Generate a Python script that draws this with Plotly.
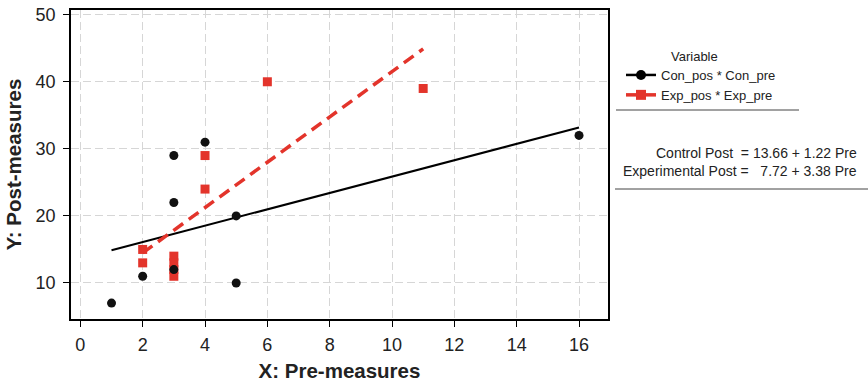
import plotly.graph_objects as go

con_pre = [1, 2, 3, 3, 3, 4, 5, 5, 16]
con_pos = [7, 11, 29, 22, 12, 31, 20, 10, 32]
exp_pre = [2, 2, 3, 3, 3, 3, 4, 4, 6, 11]
exp_pos = [15, 13, 14, 13, 12, 11, 29, 24, 40, 39]

# regression coefficients as printed on the chart
con_coef = [13.66, 1.22]
exp_coef = [7.72, 3.38]
con_line_x = [1, 16]
exp_line_x = [2, 11]
con_line_y = [con_coef[0] + con_coef[1] * x for x in con_line_x]
exp_line_y = [exp_coef[0] + exp_coef[1] * x for x in exp_line_x]

x_ticks = [0, 2, 4, 6, 8, 10, 12, 14, 16]
y_ticks = [10, 20, 30, 40, 50]

FONT = "Liberation Sans, Arial, sans-serif"
RED = "#e3342b"
TXT = "#222"

# plot area in pixels: l=71, r=608, t=10, b=319
PW, PH, L, B = 537, 309, 71, 319
def px(x):
    return (x - L) / PW
def py(y):
    return (B - y) / PH

fig = go.Figure()
fig.add_trace(go.Scatter(x=[None], y=[None], mode="lines+markers", name="Con_pos * Con_pre",
                         line=dict(color="black", width=2.5),
                         marker=dict(symbol="circle", size=10, color="black")))
fig.add_trace(go.Scatter(x=[None], y=[None], mode="lines+markers", name="Exp_pos * Exp_pre",
                         line=dict(color=RED, width=3.5),
                         marker=dict(symbol="square", size=10, color=RED)))
fig.add_trace(go.Scatter(x=con_line_x, y=con_line_y, mode="lines", showlegend=False,
                         line=dict(color="black", width=2)))
fig.add_trace(go.Scatter(x=exp_line_x, y=exp_line_y, mode="lines", showlegend=False,
                         line=dict(color=RED, width=3.5, dash="12px,7px")))
fig.add_trace(go.Scatter(x=exp_pre, y=exp_pos, mode="markers", showlegend=False,
                         marker=dict(symbol="square", size=9, color=RED)))
fig.add_trace(go.Scatter(x=con_pre, y=con_pos, mode="markers", showlegend=False,
                         marker=dict(symbol="circle", size=9, color="#111")))

axis_common = dict(showline=True, linecolor="black", linewidth=1.5, mirror=True,
                   ticks="outside", ticklen=6, tickcolor="black", tickwidth=1.2,
                   showgrid=True, gridcolor="#d6d6d6", griddash="8px,4px", gridwidth=1.3,
                   zeroline=False, automargin=False,
                   tickfont=dict(family=FONT, size=18, color=TXT))

fig.update_xaxes(range=[-0.30, 16.93], tickvals=x_ticks, ticklabelstandoff=3,
                 title=dict(text="<b>X: Pre-measures</b>", font=dict(family=FONT, size=20.5, color=TXT),
                            standoff=9),
                 **axis_common)
fig.update_yaxes(range=[4.63, 50.7], tickvals=y_ticks, ticklabelstandoff=4,
                 title=dict(text="<b>Y: Post-measures</b>", font=dict(family=FONT, size=20.5, color=TXT),
                            standoff=8),
                 **axis_common)

fig.update_layout(
    width=868, height=386,
    margin=dict(l=71, r=260, t=10, b=67, autoexpand=False),
    plot_bgcolor="white", paper_bgcolor="white",
    font=dict(family=FONT, size=13, color=TXT),
    legend=dict(x=px(621), y=py(60), xanchor="left", yanchor="top",
                font=dict(size=13), tracegroupgap=0, bgcolor="rgba(0,0,0,0)"),
    shapes=[
        dict(type="line", xref="paper", yref="paper", x0=px(616), x1=px(799), y0=py(110), y1=py(110),
             line=dict(color="#444", width=1)),
        dict(type="line", xref="paper", yref="paper", x0=px(615), x1=px(868), y0=py(189), y1=py(189),
             line=dict(color="#444", width=1)),
    ],
    annotations=[
        dict(xref="paper", yref="paper", x=px(669), y=py(57), xanchor="left", yanchor="middle",
             text="Variable", showarrow=False, font=dict(family=FONT, size=13, color=TXT)),
        dict(xref="paper", yref="paper", x=px(859), y=py(153), xanchor="right", yanchor="middle",
             text="Control Post\u00a0\u00a0= 13.66 + 1.22 Pre", showarrow=False,
             font=dict(family=FONT, size=14, color=TXT)),
        dict(xref="paper", yref="paper", x=px(859), y=py(171), xanchor="right", yanchor="middle",
             text="Experimental Post =\u00a0\u00a0\u00a07.72 + 3.38 Pre", showarrow=False,
             font=dict(family=FONT, size=14, color=TXT)),
    ],
)

fig.write_html("out.html")
